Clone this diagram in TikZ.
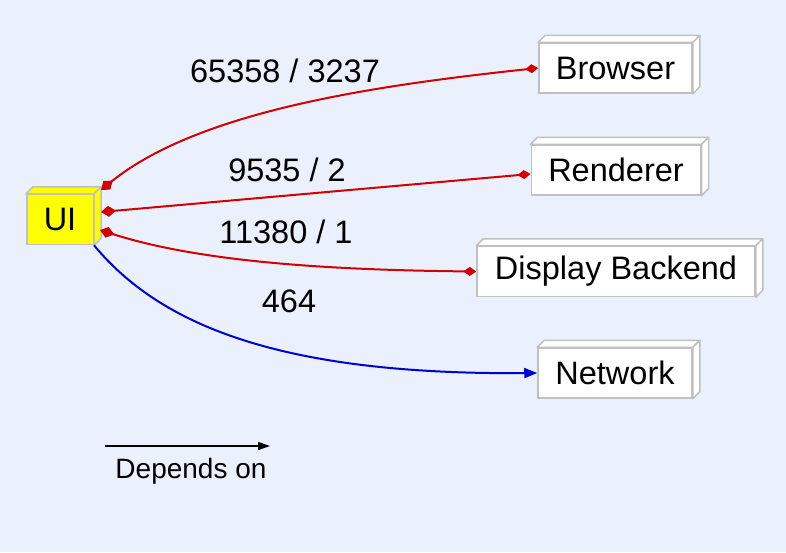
\documentclass[tikz,border=0pt]{standalone}
\usepackage{fontspec}
\setmainfont{Liberation Sans}
\usetikzlibrary{arrows.meta}
\definecolor{bgblue}{RGB}{234,241,252}
\definecolor{boxgray}{RGB}{192,192,192}
\definecolor{deplred}{RGB}{210,0,0}
\definecolor{depblue}{RGB}{0,0,210}
\definecolor{uiyellow}{RGB}{255,255,0}

\begin{document}
\begin{tikzpicture}[
      x=1pt, y=-1pt,
      module/.style={draw=boxgray, line width=1.5pt, fill=white, inner xsep=17pt,
                     minimum height=50pt, font=\fontsize{32.5}{38}\selectfont},  % front face of a box
      face/.style={draw=boxgray, line width=1.5pt, line join=round},        % top and side faces
      lbl/.style={anchor=base, font=\fontsize{32.5}{38}\selectfont},
      reddep/.style={draw=deplred, line width=2pt,
                     {Diamond[length=15pt,width=11pt]}-{Diamond[length=13pt,width=9pt]}},
      bluedep/.style={draw=depblue, line width=2pt, -{Triangle[length=13pt,width=10pt]}}
    ]
    \fill[bgblue] (0,0) rectangle (786,552);
    \useasboundingbox (0,0) rectangle (786,552);

    % modules
    \node[module, fill=uiyellow, minimum width=64pt] (ui) at (60,219.5) {UI};
    \node[module, minimum width=153pt] (browser) at (615.5,68) {Browser};
    \node[module, minimum width=168pt] (renderer) at (616,170) {Renderer};
    \node[module, minimum width=278pt] (display) at (616,271.5) {Display Backend};
    \node[module, minimum width=154pt] (network) at (615,373) {Network};

    % 3d faces
    \foreach \n/\c in {ui/uiyellow, browser/white, renderer/white, display/white, network/white} {
        \draw[face, fill=\c] (\n.north west) -- ++(7,-7) -- ([shift={(7,-7)}]\n.north east)
            -- ([shift={(7,-7)}]\n.south east) -- (\n.south east) -- (\n.north east) -- cycle;
        \draw[face] (\n.north east) -- ([shift={(7,-7)}]\n.north east);
    }

    % dependencies
    \draw[reddep] ([shift={(7,-29.5)}]ui.east) .. controls (200,110) and (380,85) .. (browser.west);
    \draw[reddep] ([shift={(7,-7.5)}]ui.east) -- ([yshift=-4pt]renderer.west);
    \draw[reddep] ([shift={(6,10.5)}]ui.east) .. controls (200,262) and (330,270) .. (display.west);
    \draw[bluedep] (ui.south east) .. controls (160,325) and (280,375) .. (network.west);

    % counts
    \node[lbl] (l1) at (285,82) {65358 / 3237};
    \node[lbl] (l2) at (287,181) {9535 / 2};
    \node[lbl] (l3) at (286,243) {11380 / 1};
    \node[lbl] (l4) at (289,312) {464};

    % legend
    \coordinate (lgs) at (105,446);
    \coordinate (lge) at (270,446);
    \draw[line width=1.3pt, -{Triangle[length=12pt,width=8pt]}] (lgs) -- (lge);
    \node[lbl, font=\fontsize{28}{34}\selectfont] (legend) at (191,478) {Depends on};
\end{tikzpicture}
\end{document}
